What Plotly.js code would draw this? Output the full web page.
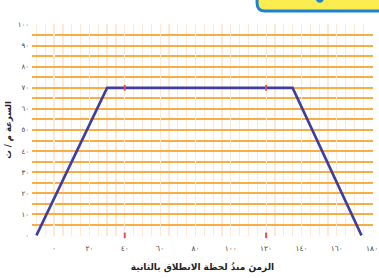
<!DOCTYPE html>
<html>
<head>
<meta charset="utf-8">
<script src="https://cdn.plot.ly/plotly-3.0.1.min.js"></script>
<style>html,body{margin:0;padding:0;background:#fff;}#chart{width:379px;height:278px;}</style>
</head>
<body>
<div id="chart"></div>
<script>
// Data
var timeSec = [-10, 30, 135, 174];
var speed = [0, 70, 70, 0];
var markX = [40, 120, 40, 120];
var markY = [70, 70, 0, 0];
var xTickVals = [0, 20, 40, 60, 80, 100, 120, 140, 160, 180];
var xTickText = ['٠', '٢٠', '٤٠', '٦٠', '٨٠', '١٠٠', '١٢٠', '١٤٠', '١٦٠', '١٨٠'];
var yTickVals = [0, 10, 20, 30, 40, 50, 60, 70, 80, 90, 100];
var yTickText = ['٠', '١٠', '٢٠', '٣٠', '٤٠', '٥٠', '٦٠', '٧٠', '٨٠', '٩٠', '١٠٠'];
var xTitle = 'الزمنَ منذُ لحظة الانطلاق بالثانية';
var yTitle = 'السرعة م / ث';

var hColor = '#f9ad45';
var vColor = '#fee8d6';

var traces = [
  {x: timeSec, y: speed, mode: 'lines', type: 'scatter',
   line: {color: '#3d3f9e', width: 2.6, shape: 'linear'},
   hoverinfo: 'skip', cliponaxis: false},
  {x: markX, y: markY, mode: 'markers', type: 'scatter',
   marker: {symbol: 'line-ns-open', size: 4, color: '#ee4a55', line: {color: '#ee4a55', width: 2}},
   hoverinfo: 'skip', cliponaxis: false}
];

var layout = {
  width: 379, height: 278,
  margin: {l: 32, r: 6, t: 24, b: 42},
  paper_bgcolor: '#ffffff', plot_bgcolor: '#ffffff',
  showlegend: false,
  font: {family: 'DejaVu Sans', color: '#333', size: 7},
  xaxis: {
    range: [-12.5, 180.5],
    tickmode: 'array', tickvals: xTickVals, ticktext: xTickText,
    showgrid: true, gridcolor: vColor, gridwidth: 1.2,
    minor: {dtick: 5, tick0: 0, showgrid: true, gridcolor: vColor, gridwidth: 1.2},
    zeroline: false, showline: false, ticks: '',
    tickfont: {size: 7.5, color: '#444'}, ticklabelstandoff: 6,
    title: {text: xTitle, font: {size: 9, color: '#222', family: 'DejaVu Sans', weight: 'bold'}, standoff: 12}
  },
  yaxis: {
    range: [-0.3, 100.3],
    tickmode: 'array', tickvals: yTickVals, ticktext: yTickText,
    showgrid: true, gridcolor: hColor, gridwidth: 2,
    minor: {dtick: 5, tick0: 0, showgrid: true, gridcolor: hColor, gridwidth: 2},
    zeroline: false, showline: false, ticks: '',
    tickfont: {size: 7, color: '#444'}, ticklabelstandoff: 2,
    title: {text: yTitle, font: {size: 8.5, color: '#222', family: 'DejaVu Sans', weight: 'bold'}, standoff: 4}
  },
  shapes: [
    {type: 'path', xref: 'paper', yref: 'paper', layer: 'above',
     path: 'M 0.66,1.2 L 0.66,1.099 Q 0.66,1.061 0.6835,1.061 L 1.06,1.061 L 1.06,1.2 Z',
     fillcolor: '#fbed4f', line: {color: '#1b84cf', width: 3}},
    {type: 'circle', xref: 'paper', yref: 'paper', layer: 'above',
     x0: 0.832, x1: 0.856, y0: 1.10, y1: 1.14,
     fillcolor: '#1b84cf', line: {width: 0}}
  ]
};

Plotly.newPlot('chart', traces, layout, {displayModeBar: false, staticPlot: true});
</script>
</body>
</html>
